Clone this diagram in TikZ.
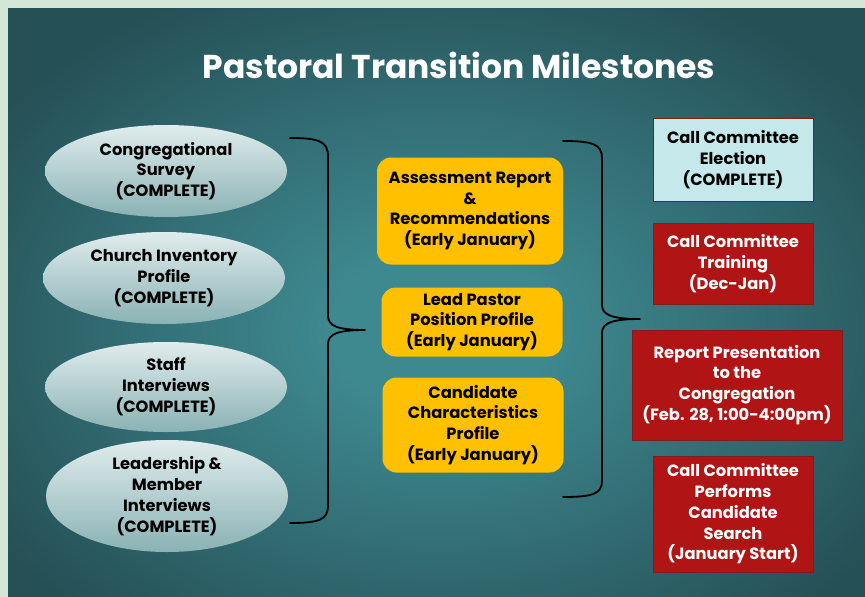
\documentclass[tikz,border=0pt]{standalone}
\usepackage{fontspec}
\setmainfont{Poppins}
\usetikzlibrary{shapes.geometric}
\definecolor{bgin}{RGB}{62,136,143}
\definecolor{bgout}{RGB}{37,80,86}
\definecolor{framecol}{RGB}{212,230,214}
\definecolor{ellTop}{RGB}{224,236,237}
\definecolor{ellBot}{RGB}{138,178,180}
\definecolor{gold}{RGB}{255,192,0}
\definecolor{redbox}{RGB}{176,20,20}
\definecolor{redline}{RGB}{125,30,30}
\definecolor{paleblue}{RGB}{197,232,234}
\pgfdeclareradialshading{bgshade}{\pgfpoint{0bp}{0bp}}{color(0bp)=(bgin); color(4bp)=(bgin); color(19bp)=(bgout); color(50bp)=(bgout)}
\tikzset{
  txt/.style={font=\fontsize{16.3}{20.8}\selectfont\bfseries, align=center, inner sep=0pt},
  oval/.style={txt, ellipse, minimum width=242pt, minimum height=92pt, top color=ellTop, bottom color=ellBot, draw=none},
  goldbox/.style={txt, rectangle, rounded corners=14pt, fill=gold, text=black},
  redrect/.style={txt, rectangle, fill=redbox, draw=redline, line width=1pt, text=white},
  palerect/.style={txt, rectangle, fill=paleblue, draw=redline, line width=1pt, text=black},
  brace/.style={draw=black, line width=1.8pt, line cap=round, line join=round}
}
\begin{document}
\begin{tikzpicture}[x=1pt,y=-1pt]
\useasboundingbox (0,0) rectangle (865,597);
\fill[framecol] (0,0) rectangle (865,597);
\begin{scope}
  \clip (8,8) rectangle (865,597);
  \shade[shading=bgshade] (440,330) ellipse [x radius=700, y radius=500];
\end{scope}

\node[font=\fontsize{33}{38}\selectfont\bfseries, text=white, inner sep=0pt] (title) at (459,65) {Pastoral Transition Milestones};

% left ellipses
\node[oval] (e1) at (166,171) {Congregational\\Survey\\(COMPLETE)};
\node[oval] (e2) at (164,278) {Church Inventory\\Profile\\(COMPLETE)};
\node[oval, minimum height=90pt] (e3) at (166,387) {Staff\\Interviews\\(COMPLETE)};
\node[oval, minimum height=112pt] (e4) at (167,496) {Leadership \&\\Member\\Interviews\\(COMPLETE)};

% middle boxes
\node[goldbox, minimum width=186pt, minimum height=107pt] (m1) at (470,211) {Assessment Report\\\&\\Recommendations\\(Early January)};
\node[goldbox, minimum width=181pt, minimum height=69pt] (m2) at (472,322) {Lead Pastor\\Position Profile\\(Early January)};
\node[goldbox, minimum width=181pt, minimum height=95pt] (m3) at (473,425) {Candidate\\Characteristics\\Profile\\(Early January)};

% right boxes
\node[palerect, minimum width=160pt, minimum height=83pt] (r1) at (733,159.5) {Call Committee\\Election\\(COMPLETE)};
\node[redrect, minimum width=160pt, minimum height=81pt] (r2) at (733,263.5) {Call Committee\\Training\\(Dec-Jan)};
\node[redrect, minimum width=210pt, minimum height=110pt] (r3) at (737,385) {Report Presentation\\to the\\Congregation\\(Feb. 28, 1:00-4:00pm)};
\node[redrect, minimum width=160pt, minimum height=116pt] (r4) at (733,514) {Call Committee\\Performs\\Candidate\\Search\\(January Start)};

% braces
\coordinate (lbTop) at (290,138);
\coordinate (lbTip) at (365,330);
\coordinate (lbBot) at (290,523);
\draw[brace] (lbTop) .. controls (318,138) and (328,141) .. (328,156)
  -- (328,316) .. controls (328,326) and (338,330) .. (lbTip)
  .. controls (338,330) and (328,334) .. (328,344)
  -- (328,506) .. controls (328,520) and (318,523) .. (lbBot);
\coordinate (rbTop) at (563,141);
\coordinate (rbTip) at (640,319);
\coordinate (rbBot) at (563,497);
\draw[brace] (rbTop) .. controls (592,141) and (602,144) .. (602,158)
  -- (602,305) .. controls (602,315) and (612,319) .. (rbTip)
  .. controls (612,319) and (602,323) .. (602,333)
  -- (602,481) .. controls (602,494) and (592,497) .. (rbBot);
\end{tikzpicture}
\end{document}
